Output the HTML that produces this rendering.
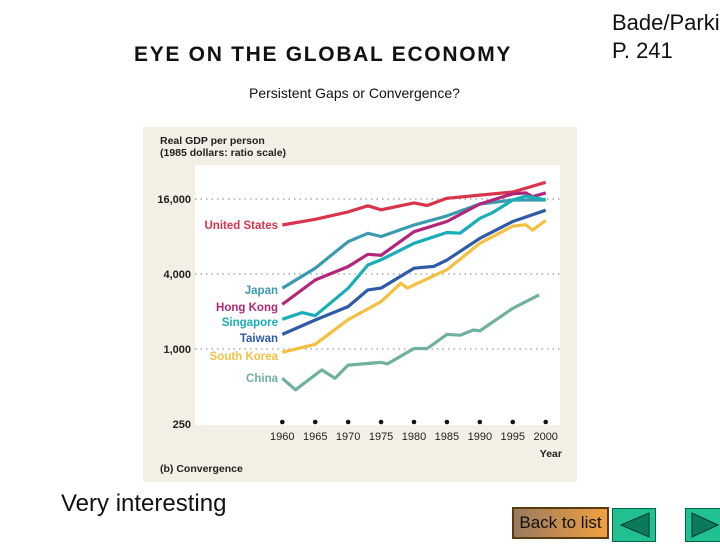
<!DOCTYPE html>
<html><head><meta charset="utf-8"><style>
body{margin:0;width:720px;height:540px;background:#fff;position:relative;overflow:hidden;font-family:"Liberation Sans",sans-serif}
.abs{position:absolute;white-space:nowrap}
</style></head><body>
<div class="abs" style="left:134px;top:43px;font-size:21px;letter-spacing:1.7px;font-weight:bold;color:#111">EYE ON THE GLOBAL ECONOMY</div>
<div class="abs" style="left:249px;top:85px;font-size:14px;color:#111">Persistent Gaps or Convergence?</div>
<div class="abs" style="left:612px;top:9px;font-size:22px;line-height:28px;color:#111">Bade/Parkin<br>P. 241</div>
<div class="abs" style="left:61px;top:490px;font-size:24px;color:#111">Very interesting</div>
<div class="abs" style="left:512px;top:507px;width:93px;height:28px;border:2px solid #5a3a10;background:linear-gradient(90deg,#9a7a60,#f0a040);font-size:17px;line-height:28px;text-align:center;color:#111">Back to list</div>
<div class="abs" style="left:612px;top:508px;width:42px;height:32px;background:#20c090;border:1px solid #064"><svg width="42" height="32"><polygon points="36,4 36,28 8,16" fill="#0a7a5a" stroke="#033" stroke-width="1"/></svg></div>
<div class="abs" style="left:685px;top:508px;width:36px;height:32px;background:#20c090;border:1px solid #064"><svg width="36" height="32"><polygon points="6,4 6,28 32,16" fill="#0a7a5a" stroke="#033" stroke-width="1"/></svg></div>

<svg id="chart" class="abs" style="left:0;top:0" width="720" height="540">
<rect x="143" y="127" width="434" height="355" fill="#f3efe4"/>
<rect x="195" y="165" width="365" height="260" fill="#fff"/>
<g id="g" font-family="Liberation Sans, sans-serif" font-weight="bold"></g>
</svg>
<script>
const years=[1960,1965,1970,1975,1980,1985,1990,1995,2000];
const yTicks=[16000,4000,1000,250];
const yTickLabels=["16,000","4,000","1,000","250"];
const seriesNames=["United States","Japan","Hong Kong","Singapore","Taiwan","South Korea","China"];
const usYears=[1960,1965,1970,1973,1975,1980,1982,1985,1990,1995,2000];
const usVals=[9900,11000,12600,14100,13100,14900,14200,16200,17200,18200,21800];
const jpYears=[1960,1965,1970,1973,1975,1980,1985,1990,1995,2000];
const jpVals=[3070,4450,7270,8480,8000,9900,11700,14600,15700,15700];
const hkYears=[1960,1965,1970,1973,1975,1980,1985,1990,1995,1997,1998,2000];
const hkVals=[2280,3580,4590,5760,5650,8750,10550,14600,17600,17900,16700,17900];
const sgYears=[1960,1963,1965,1970,1973,1975,1980,1985,1987,1990,1992,1995,1997,2000];
const sgVals=[1730,1960,1850,3070,4720,5200,7050,8620,8500,11200,12500,15700,16900,15700];
const twYears=[1960,1965,1970,1973,1975,1980,1983,1985,1990,1995,2000];
const twVals=[1310,1710,2190,2980,3080,4450,4600,5170,7740,10550,13000];
const krYears=[1960,1965,1970,1975,1978,1979,1985,1990,1995,1997,1998,2000];
const krVals=[940,1090,1720,2400,3370,3080,4330,7050,9700,9950,9000,10740];
const cnYears=[1960,1962,1966,1968,1970,1975,1976,1980,1982,1985,1987,1989,1990,1995,1999];
const cnVals=[582,470,680,582,743,780,760,1010,1010,1310,1290,1420,1400,2120,2720];
const colors=["#d8344c","#3a9ab0","#b3257a","#18aeb8","#2e5aa8","#f5c040","#6fb0a0"];
const labelY=[225,290,307,322,338,356,378];
const allX=[usYears,jpYears,hkYears,sgYears,twYears,krYears,cnYears];
const allY=[usVals,jpVals,hkVals,sgVals,twVals,krVals,cnVals];
const X=y=>282.3+(y-1960)*6.585;
const Y=v=>199+Math.log2(16000/v)*37.5;
const g=document.getElementById('g');
const NS='http://www.w3.org/2000/svg';
function mk(t,a,txt){const e=document.createElementNS(NS,t);for(const k in a)e.setAttribute(k,a[k]);if(txt!=null)e.textContent=txt;g.appendChild(e);return e;}
yTicks.forEach((v,i)=>{
  if(v>250){const l=mk('line',{x1:195,x2:560,y1:Y(v),y2:Y(v),stroke:'#999','stroke-dasharray':'1.5 4','stroke-width':1.2});
  
  }
  const t=mk('text',{x:191,y:Y(v)+4,'text-anchor':'end','font-size':11,fill:'#222'},yTickLabels[i]);
  
  
});
years.forEach(y=>{
  const c=mk('circle',{cx:X(y),cy:422,r:2.3,fill:'#111'});
  
  
  const t=mk('text',{x:X(y),y:440,'text-anchor':'middle','font-size':11,'font-weight':'normal',fill:'#222'},y);
  
  
});
allX.forEach((xs,i)=>{
  const d=xs.map((y,j)=>(j?'L':'M')+X(y).toFixed(1)+','+Y(allY[i][j]).toFixed(1)).join('');
  const p=mk('path',{d:d,fill:'none',stroke:colors[i],'stroke-width':3.2,'stroke-linejoin':'round'});
  
  
  const t=mk('text',{x:278,y:labelY[i]+4,'text-anchor':'end','font-size':11.5,fill:colors[i]},seriesNames[i]);
  
  
});
const texts=[["Real GDP per person",160,144,'start','y-axis-title'],["(1985 dollars: ratio scale)",160,156,'start','y-axis-subtitle'],["Year",562,457,'end','x-axis-title'],["(b) Convergence",160,472,'start','panel-caption']];
texts.forEach(a=>{
  const t=mk('text',{x:a[1],y:a[2],'text-anchor':a[3],'font-size':10.5,fill:'#222'},a[0]);
  
  
});
</script>
</body></html>
